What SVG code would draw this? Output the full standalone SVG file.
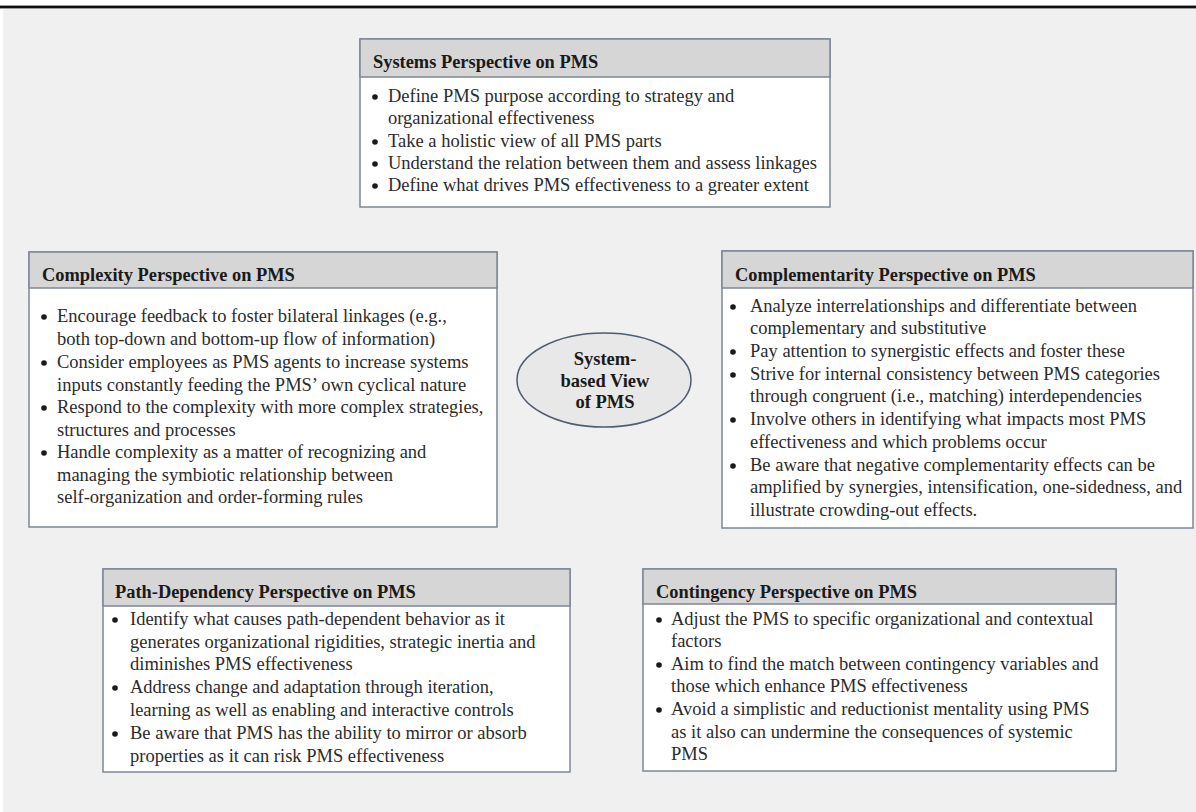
<svg xmlns="http://www.w3.org/2000/svg" width="1196" height="812" viewBox="0 0 1196 812">
<style>
.bg{fill:#f0f0f0}
.box{fill:#ffffff;stroke:#7d8795;stroke-width:1.5}
.hdr{fill:#d6d6d6;stroke:#7d8795;stroke-width:1.5}
.ttl{font-family:"Liberation Serif","Times New Roman",serif;font-weight:bold;font-size:18.4px;fill:#1a1a1a}
.t{font-family:"Liberation Serif","Times New Roman",serif;font-size:18.5px;fill:#2b2b2b}
.b{fill:#1a1a1a}
.ell{fill:#e8e8e8;stroke:#4f5d72;stroke-width:1.5}
.et{font-family:"Liberation Serif","Times New Roman",serif;font-weight:bold;font-size:18.5px;fill:#1a1a1a;text-anchor:middle}
</style>
<rect x="0" y="0" width="1196" height="812" fill="#ffffff"/>
<rect class="bg" x="3" y="9" width="1193" height="803"/>
<rect x="0" y="5" width="1196" height="4" fill="#9a9a9a"/>
<rect x="0" y="6" width="1196" height="2" fill="#111111"/>

<g id="systems">
<rect class="box" x="360" y="39" width="470" height="168"/>
<rect class="hdr" x="360" y="39" width="470" height="38"/>
<text class="ttl" x="373" y="68">Systems Perspective on PMS</text>
<circle class="b" cx="375" cy="97" r="2.8"/><text class="t" x="388" y="102">Define PMS purpose according to strategy and</text>
<text class="t" x="388" y="124">organizational effectiveness</text>
<circle class="b" cx="375" cy="142" r="2.8"/><text class="t" x="388" y="147">Take a holistic view of all PMS parts</text>
<circle class="b" cx="375" cy="164" r="2.8"/><text class="t" x="388" y="169">Understand the relation between them and assess linkages</text>
<circle class="b" cx="375" cy="186" r="2.8"/><text class="t" x="388" y="191">Define what drives PMS effectiveness to a greater extent</text>
</g>

<g id="complexity">
<rect class="box" x="29" y="252" width="468" height="275"/>
<rect class="hdr" x="29" y="252" width="468" height="36"/>
<text class="ttl" x="42" y="281">Complexity Perspective on PMS</text>
<circle class="b" cx="44" cy="317" r="2.8"/><text class="t" x="57" y="322">Encourage feedback to foster bilateral linkages (e.g.,</text>
<text class="t" x="57" y="345">both top-down and bottom-up flow of information)</text>
<circle class="b" cx="44" cy="363" r="2.8"/><text class="t" x="57" y="368">Consider employees as PMS agents to increase systems</text>
<text class="t" x="57" y="391">inputs constantly feeding the PMS’ own cyclical nature</text>
<circle class="b" cx="44" cy="408" r="2.8"/><text class="t" x="57" y="413">Respond to the complexity with more complex strategies,</text>
<text class="t" x="57" y="436">structures and processes</text>
<circle class="b" cx="44" cy="453" r="2.8"/><text class="t" x="57" y="458">Handle complexity as a matter of recognizing and</text>
<text class="t" x="57" y="481">managing the symbiotic relationship between</text>
<text class="t" x="57" y="503">self-organization and order-forming rules</text>
</g>

<g id="complementarity">
<rect class="box" x="722" y="251" width="471" height="277"/>
<rect class="hdr" x="722" y="251" width="471" height="37"/>
<text class="ttl" x="735" y="281">Complementarity Perspective on PMS</text>
<circle class="b" cx="733" cy="307" r="2.8"/><text class="t" x="750" y="312">Analyze interrelationships and differentiate between</text>
<text class="t" x="750" y="334">complementary and substitutive</text>
<circle class="b" cx="733" cy="352" r="2.8"/><text class="t" x="750" y="357">Pay attention to synergistic effects and foster these</text>
<circle class="b" cx="733" cy="375" r="2.8"/><text class="t" x="750" y="380">Strive for internal consistency between PMS categories</text>
<text class="t" x="750" y="402">through congruent (i.e., matching) interdependencies</text>
<circle class="b" cx="733" cy="420" r="2.8"/><text class="t" x="750" y="425">Involve others in identifying what impacts most PMS</text>
<text class="t" x="750" y="448">effectiveness and which problems occur</text>
<circle class="b" cx="733" cy="466" r="2.8"/><text class="t" x="750" y="471">Be aware that negative complementarity effects can be</text>
<text class="t" x="750" y="493">amplified by synergies, intensification, one-sidedness, and</text>
<text class="t" x="750" y="516">illustrate crowding-out effects.</text>
</g>

<g id="center">
<ellipse class="ell" cx="604" cy="380" rx="87" ry="47"/>
<text class="et" x="605" y="365">System-</text>
<text class="et" x="605" y="387">based View</text>
<text class="et" x="605" y="408">of PMS</text>
</g>

<g id="pathdependency">
<rect class="box" x="103" y="569" width="467" height="203"/>
<rect class="hdr" x="103" y="569" width="467" height="37"/>
<text class="ttl" x="115" y="598">Path-Dependency Perspective on PMS</text>
<circle class="b" cx="115" cy="620" r="2.8"/><text class="t" x="130" y="625">Identify what causes path-dependent behavior as it</text>
<text class="t" x="130" y="648">generates organizational rigidities, strategic inertia and</text>
<text class="t" x="130" y="670">diminishes PMS effectiveness</text>
<circle class="b" cx="115" cy="688" r="2.8"/><text class="t" x="130" y="693">Address change and adaptation through iteration,</text>
<text class="t" x="130" y="716">learning as well as enabling and interactive controls</text>
<circle class="b" cx="115" cy="734" r="2.8"/><text class="t" x="130" y="739">Be aware that PMS has the ability to mirror or absorb</text>
<text class="t" x="130" y="762">properties as it can risk PMS effectiveness</text>
</g>

<g id="contingency">
<rect class="box" x="643" y="569" width="473" height="202"/>
<rect class="hdr" x="643" y="569" width="473" height="35"/>
<text class="ttl" x="656" y="598">Contingency Perspective on PMS</text>
<circle class="b" cx="659" cy="620" r="2.8"/><text class="t" x="671" y="625">Adjust the PMS to specific organizational and contextual</text>
<text class="t" x="671" y="647">factors</text>
<circle class="b" cx="659" cy="665" r="2.8"/><text class="t" x="671" y="670">Aim to find the match between contingency variables and</text>
<text class="t" x="671" y="692">those which enhance PMS effectiveness</text>
<circle class="b" cx="659" cy="710" r="2.8"/><text class="t" x="671" y="715">Avoid a simplistic and reductionist mentality using PMS</text>
<text class="t" x="671" y="738">as it also can undermine the consequences of systemic</text>
<text class="t" x="671" y="760">PMS</text>
</g>

<g id="connectors"></g>
</svg>
